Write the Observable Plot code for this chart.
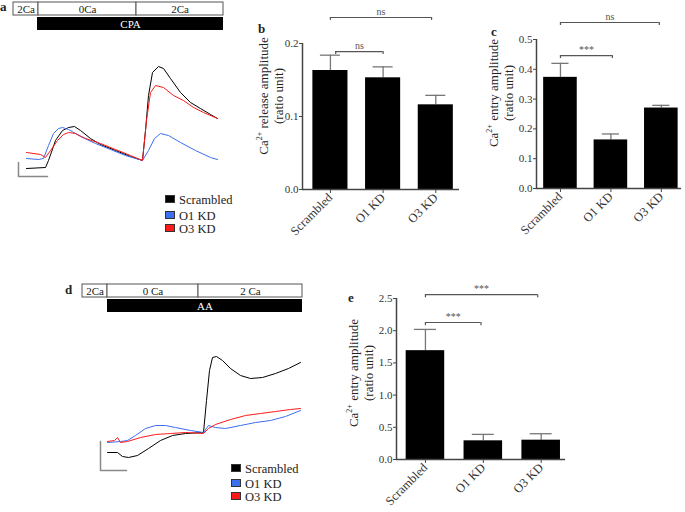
<!DOCTYPE html>
<html><head><meta charset="utf-8">
<script src="https://cdn.jsdelivr.net/npm/d3@7"></script>
<script src="https://cdn.jsdelivr.net/npm/@observablehq/plot@0.6"></script>
<style>
body{margin:0;background:#fff;}
#root{position:relative;width:685px;height:512px;overflow:hidden;font-family:"Liberation Serif","Times New Roman",serif;color:#222;}
#root svg{position:absolute;max-width:none;}
.lab{position:absolute;font-weight:bold;font-size:13px;}
.ytitle{position:absolute;transform:translate(-50%,-50%) rotate(-90deg);white-space:nowrap;text-align:center;font-size:13px;line-height:16px;}
.leg{position:absolute;font-size:12.5px;white-space:nowrap;line-height:14px;}
.leg span.sw{display:inline-block;width:8px;height:6px;border:1px solid #333;margin-right:4px;vertical-align:1px;}
</style></head>
<body><div id="root"></div>
<script>
// ---------- DATA ----------
const groups = ["Scrambled", "O1 KD", "O3 KD"];
const seriesColors = ["#000000", "#3c6ef0", "#ff1a1a"];

// panel b: Ca2+ release amplitude
const releaseMean = [0.163, 0.153, 0.116];
const releaseSem  = [0.021, 0.015, 0.013];
// panel c: Ca2+ entry amplitude (CPA)
const entryCMean = [0.373, 0.163, 0.270];
const entryCSem  = [0.047, 0.020, 0.009];
// panel e: Ca2+ entry amplitude (AA)
const entryEMean = [1.69, 0.29, 0.30];
const entryESem  = [0.33, 0.10, 0.10];

// significance brackets [from, to, level, label]
const bracketsB = [[0, 1.92, 0.2356, "ns"], [0.1, 1.0, 0.189, "ns"]];
const bracketsC = [[0, 1.96, 0.557, "ns"], [0, 1.03, 0.446, "***"]];
const bracketsE = [[0, 1.94, 2.56, "***"], [0, 0.96, 2.127, "***"]];

// protocol bars (time in s)
const protoASol  = [["2Ca", 0, 125], ["0Ca", 125, 615], ["2Ca", 615, 1050]];
const protoADrug = [["CPA", 120, 1050]];
const protoDSol  = [["2Ca", 0, 125], ["0 Ca", 125, 580], ["2 Ca", 580, 1100]];
const protoDDrug = [["AA", 125, 1100]];

// panel a traces [time s, ratio]
const traceAScr = [[65,0.86],[160,0.865],[175,0.90],[210,1.00],[245,1.05],[275,1.065],[305,1.07],[335,1.05],[385,1.01],[435,0.98],[510,0.95],[585,0.92],[645,0.90],[660,1.05],[675,1.225],[695,1.34],[725,1.37],[750,1.36],[785,1.31],[835,1.24],[885,1.19],[935,1.16],[985,1.13],[1020,1.11]];
const traceAO1 = [[65,0.91],[125,0.905],[150,0.91],[175,0.975],[200,1.035],[225,1.06],[245,1.065],[275,1.055],[335,1.02],[410,0.985],[485,0.955],[560,0.925],[645,0.90],[675,0.95],[705,1.01],[735,1.035],[775,1.025],[835,0.99],[910,0.95],[985,0.915],[1020,0.905]];
const traceAO3 = [[65,0.94],[135,0.93],[160,0.915],[185,0.95],[220,1.00],[250,1.03],[275,1.04],[310,1.035],[360,1.01],[435,0.985],[510,0.955],[585,0.925],[645,0.90],[665,1.10],[685,1.24],[710,1.275],[750,1.265],[800,1.225],[850,1.20],[900,1.165],[950,1.14],[1020,1.11]];
const scaleBarA = [[25,0.89],[25,0.82],[170,0.82]];

// panel d traces [time s, ratio]
const traceDScr = [[125,0.84],[175,0.84],[200,0.82],[230,0.815],[275,0.825],[330,0.86],[390,0.90],[450,0.925],[515,0.935],[605,0.94],[620,1.10],[635,1.25],[650,1.315],[670,1.32],[700,1.30],[740,1.26],[790,1.225],[840,1.21],[900,1.215],[965,1.235],[1030,1.26],[1090,1.29]];
const traceDO1 = [[125,0.89],[190,0.895],[225,0.90],[265,0.925],[315,0.96],[365,0.975],[415,0.975],[465,0.965],[540,0.95],[605,0.94],[630,0.975],[665,0.965],[715,0.96],[790,0.975],[865,0.99],[940,1.00],[1015,1.02],[1090,1.05]];
const traceDO3 = [[125,0.895],[160,0.90],[175,0.915],[190,0.89],[225,0.895],[290,0.915],[365,0.93],[440,0.935],[515,0.94],[605,0.935],[630,0.96],[665,0.98],[740,1.005],[815,1.025],[890,1.035],[965,1.045],[1040,1.055],[1090,1.06]];
const scaleBarD = [[90,0.895],[90,0.75],[220,0.75]];

// ---------- DRAWING ----------
const root = document.getElementById("root");
const FONT = '"Liberation Serif","Times New Roman",serif';

function place(svg, left, top) {
  svg.style.left = left + "px"; svg.style.top = top + "px";
  root.appendChild(svg);
}
function addDiv(cls, html, left, top, extra) {
  const d = document.createElement("div");
  d.className = cls; d.innerHTML = html;
  d.style.left = left + "px"; d.style.top = top + "px";
  if (extra) Object.assign(d.style, extra);
  root.appendChild(d);
}

function protocol(sol, drug, {left, top, width, mL, mR, domain}) {
  const row = (arr, r) => arr.map(([label, t1, t2]) => ({label, t1, t2, r}));
  const S = row(sol, "sol"), D = row(drug, "drug");
  const svg = Plot.plot({
    width, height: 31, marginLeft: mL, marginRight: mR, marginTop: 1, marginBottom: 1,
    style: {fontFamily: FONT, fontSize: "11px", background: "transparent", overflow: "visible"},
    x: {domain, axis: null},
    y: {domain: ["sol", "drug"], axis: null, paddingInner: 0.15, paddingOuter: 0},
    marks: [
      Plot.barX(S, {x1: "t1", x2: "t2", y: "r", fill: "white", stroke: "#555", strokeWidth: 1, inset: 0}),
      Plot.barX(D, {x1: "t1", x2: "t2", y: "r", fill: "black", inset: 0}),
      Plot.text(S, {x: d => (d.t1 + d.t2) / 2, y: "r", text: "label", fill: "#222"}),
      Plot.text(D, {x: d => (d.t1 + d.t2) / 2, y: "r", text: "label", fill: "white"})
    ]
  });
  place(svg, left, top);
}

function traces(series, bar, {left, top, width, height, mL, mR, mT, mB, xDomain, yDomain}) {
  const toObj = a => a.map(([t, r]) => ({t, r}));
  const marks = series.map((s, i) => Plot.line(toObj(s), {x: "t", y: "r", stroke: seriesColors[i], strokeWidth: 1}));
  marks.push(Plot.line(toObj(bar), {x: "t", y: "r", stroke: "#888", strokeWidth: 1.5}));
  const svg = Plot.plot({
    width, height, marginLeft: mL, marginRight: mR, marginTop: mT, marginBottom: mB,
    style: {background: "transparent", overflow: "visible"},
    x: {domain: xDomain, axis: null}, y: {domain: yDomain, axis: null},
    marks
  });
  place(svg, left, top);
}

function barChart(mean, sem, brackets, o) {
  const data = mean.map((v, i) => ({i, v, e: sem[i]}));
  const br = brackets.map(([a, b, y, label]) => ({a, b, y, label}));
  const hw = 0.333, cap = o.cap, drop = o.drop;
  const [x0] = o.xDomain;
  const svg = Plot.plot({
    width: o.width, height: o.height,
    marginLeft: o.mL, marginRight: o.mR, marginTop: o.mT, marginBottom: o.mB,
    style: {fontFamily: FONT, fontSize: "11px", background: "transparent", overflow: "visible", color: "#333"},
    x: {domain: o.xDomain}, y: {domain: o.yDomain},
    marks: [
      Plot.ruleX(data, {x: "i", y1: "v", y2: d => d.v + d.e, stroke: "#777", strokeWidth: 1.3}),
      Plot.ruleY(data, {y: d => d.v + d.e, x1: d => d.i - cap, x2: d => d.i + cap, stroke: "#777", strokeWidth: 1.3}),
      Plot.rectY(data, {x1: d => d.i - hw, x2: d => d.i + hw, y1: 0, y2: "v", fill: "black"}),
      Plot.ruleY([0], {stroke: "#444", strokeWidth: 1.5}),
      Plot.ruleX([x0], {y1: o.yDomain[0], y2: o.yDomain[1], stroke: "#444", strokeWidth: 1.5}),
      Plot.axisY({ticks: o.yTicks, tickFormat: ".1f", tickSize: 3, tickPadding: 1, fontSize: 11, stroke: "#444", label: null}),
      Plot.axisX({ticks: [0, 1, 2], tickFormat: i => groups[i], tickRotate: -45, tickSize: 4, tickPadding: 2, fontSize: 12.5, stroke: "#444", label: null}),
      Plot.ruleY(br, {y: "y", x1: "a", x2: "b", stroke: "#555", strokeWidth: 1.2}),
      Plot.ruleX(br, {x: "a", y1: "y", y2: d => d.y - drop, stroke: "#555", strokeWidth: 1.2}),
      Plot.ruleX(br, {x: "b", y1: "y", y2: d => d.y - drop, stroke: "#555", strokeWidth: 1.2}),
      Plot.text(br, {x: d => (d.a + d.b) / 2, y: "y", text: "label", dy: -6, fontSize: 10, fill: "#555"})
    ]
  });
  place(svg, o.left, o.top);
}

// panel a
protocol(protoASol, protoADrug, {left: 0, top: 0, width: 240, mL: 13, mR: 17, domain: [0, 1050]});
traces([traceAScr, traceAO1, traceAO3], scaleBarA, {left: 0, top: 40, width: 240, height: 150, mL: 13, mR: 17, mT: 20, mB: 10, xDomain: [0, 1050], yDomain: [0.8, 1.4]});
// panel d
protocol(protoDSol, protoDDrug, {left: 0, top: 282, width: 320, mL: 82, mR: 18, domain: [0, 1100]});
traces([traceDScr, traceDO1, traceDO3], scaleBarD, {left: 0, top: 320, width: 320, height: 160, mL: 82, mR: 18, mT: 30, mB: 10, xDomain: [0, 1100], yDomain: [0.75, 1.35]});

// panel b, c, e
barChart(releaseMean, releaseSem, bracketsB, {left: 240, top: 0, width: 220, height: 250, mL: 62, mR: 1, mT: 43, mB: 61, xDomain: [-0.53, 2.45], yDomain: [0, 0.2], yTicks: [0, 0.1, 0.2], cap: 0.19, drop: 0.004});
barChart(entryCMean, entryCSem, bracketsC, {left: 460, top: 0, width: 225, height: 250, mL: 76, mR: 4, mT: 39, mB: 62, xDomain: [-0.475, 2.4], yDomain: [0, 0.5], yTicks: [0, 0.1, 0.2, 0.3, 0.4, 0.5], cap: 0.17, drop: 0.01});
barChart(entryEMean, entryESem, bracketsE, {left: 320, top: 270, width: 260, height: 240, mL: 76, mR: 15, mT: 28, mB: 51, xDomain: [-0.5, 2.42], yDomain: [0, 2.5], yTicks: [0, 0.5, 1, 1.5, 2, 2.5], cap: 0.19, drop: 0.05});

// y titles
addDiv("ytitle", 'Ca<sup style="font-size:8px">2+</sup> release amplitude<br>(ratio unit)', 270, 96);
addDiv("ytitle", 'Ca<sup style="font-size:8px">2+</sup> entry amplitude<br>(ratio unit)', 500, 93);
addDiv("ytitle", 'Ca<sup style="font-size:8px">2+</sup> entry amplitude<br>(ratio unit)', 360, 373);

// panel letters
addDiv("lab", "a", 0, -1);
addDiv("lab", "b", 258, 21);
addDiv("lab", "c", 491, 24);
addDiv("lab", "d", 65, 282);
addDiv("lab", "e", 348, 290);

// legends
function legend(left, tops) {
  groups.forEach((g, i) => addDiv("leg", `<span class="sw" style="background:${seriesColors[i]}"></span>${g}`, left, tops[i]));
}
legend(165, [193, 209, 222]);
legend(231, [462, 477, 490]);
</script></body></html>
